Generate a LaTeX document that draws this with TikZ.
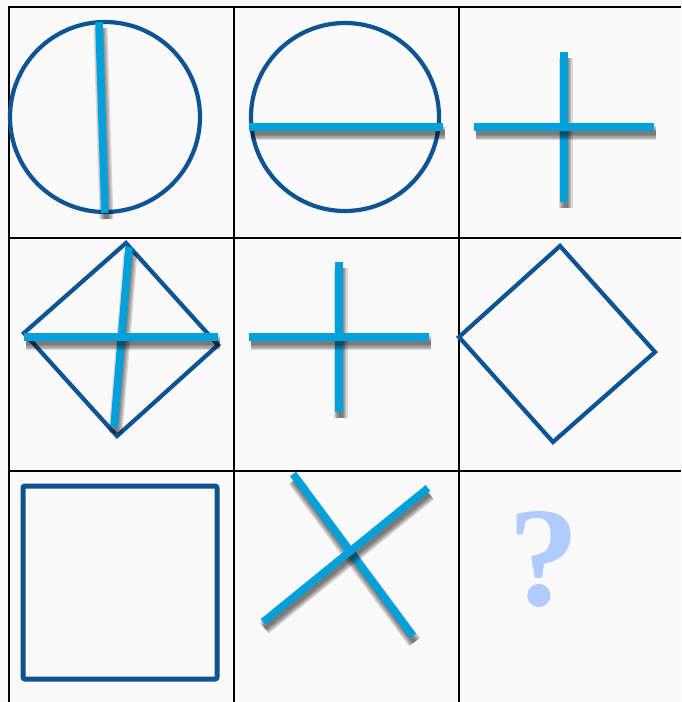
\documentclass[tikz,border=0pt]{standalone}
\usepackage{fontspec}
\setmainfont{Liberation Serif}

\definecolor{bleufonce}{RGB}{14,84,146}
\definecolor{bleuclair}{RGB}{0,160,218}
\definecolor{bleupale}{RGB}{176,204,255}

\tikzset{
  grille/.style={line width=2pt, draw=black},
  trait/.style={line width=4.2pt, draw=bleufonce},
  ombre/.style={draw=black, opacity=0.13, line width=#1, transform canvas={shift={(1.5pt,-6pt)}}},
  barre/.style={line width=7.5pt, draw=bleuclair,
    preaction={ombre=14pt}, preaction={ombre=11.5pt},
    preaction={ombre=9pt}, preaction={ombre=6.5pt}, preaction={ombre=4pt}}
}

\begin{document}
\begin{tikzpicture}[x=1pt, y=-1pt]
    \useasboundingbox (0,0) rectangle (681,702);

    % Fond
    \fill[black!2] (0,0) rectangle (681,702);

    % Grille 3x3
    \foreach \y in {7,238,471} \draw[grille] (8,\y) -- (681,\y);
    \foreach \x in {9,234,459} \draw[grille] (\x,6) -- (\x,702);

    % Case 1 : cercle et barre verticale
    \draw[trait] (105,117) circle[radius=95pt];
    \draw[barre] (99,22) -- (105,213);

    % Case 2 : cercle et barre horizontale
    \draw[trait] (345,117) circle[radius=94pt];
    \draw[barre] (249,127) -- (443,127);

    % Case 3 : croix
    \draw[barre] (564,52) -- (564,202);
    \draw[barre] (474,127) -- (654,127);

    % Case 4 : losange et deux barres
    \draw[trait] (126,243) -- (218,345) -- (117,436) -- (24,333) -- cycle;
    \draw[barre] (129,247) -- (114,427);
    \draw[barre] (24,337) -- (218,337);

    % Case 5 : croix
    \draw[barre] (339,262) -- (339,412);
    \draw[barre] (249,337) -- (429,337);

    % Case 6 : losange seul
    \draw[trait] (560,246) -- (655,352) -- (553,442) -- (459,337) -- cycle;

    % Case 7 : carre
    \draw[trait, line width=5pt, rounded corners=2pt] (23,486) rectangle (217,679);

    % Case 8 : croix penchee
    \draw[barre] (293,474) -- (413,636);
    \draw[barre] (263,622) -- (428,488);

    % Case 9 : point d'interrogation
    \node[font=\fontsize{142}{142}\selectfont\bfseries, text=bleupale, inner sep=0pt, anchor=base] (question) at (544,605) {?};
\end{tikzpicture}
\end{document}
